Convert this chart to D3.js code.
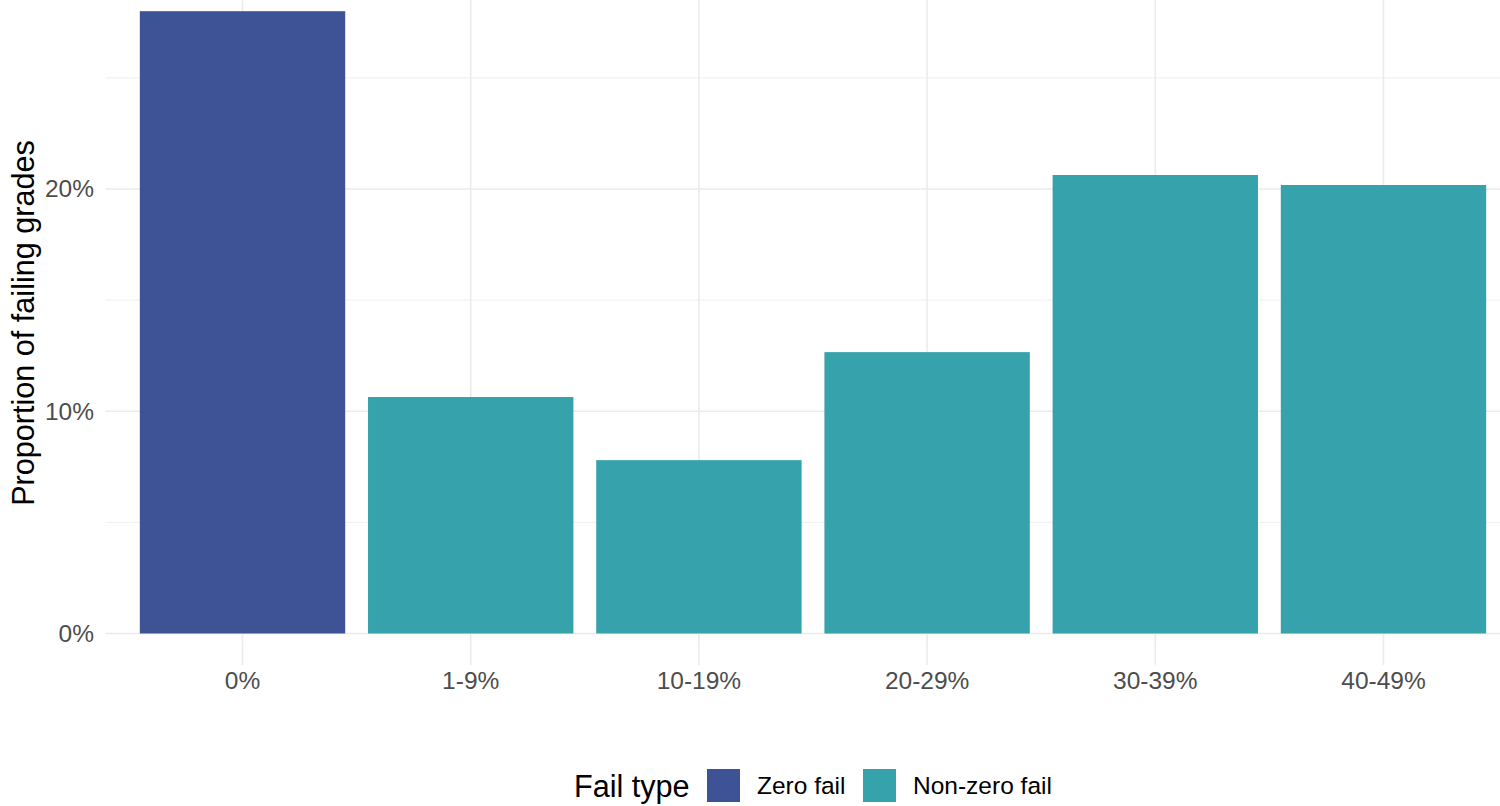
<!DOCTYPE html>
<html>
<head>
<meta charset="utf-8">
<script src="https://cdn.jsdelivr.net/npm/d3@7"></script>
<style>
  body { margin: 0; background: #fff; }
  text { font-family: "Liberation Sans", Arial, sans-serif; }
</style>
</head>
<body>
<svg id="chart" width="1500" height="806"></svg>
<script>
// data
let categories = ["0%", "1-9%", "10-19%", "20-29%", "30-39%", "40-49%"],
    proportions = [28.0, 10.64, 7.80, 12.66, 20.63, 20.18],
    fail_types = ["Zero fail", "Non-zero fail", "Non-zero fail", "Non-zero fail", "Non-zero fail", "Non-zero fail"],
    legend_labels = ["Zero fail", "Non-zero fail"],
    legend_colors = ["#3E5395", "#36A2AB"],
    major_ticks = [0, 10, 20],
    minor_ticks = [5, 15, 25];

let width = 1500,
    height = 806,
    panel = { left: 105.6, right: 1520.4, bottom: 665, top: -20 };

let svg = d3.select("#chart")

let x = d3.scaleBand()
  .domain(categories)
  .range([panel.left, panel.right])
  .paddingInner(0.1)
  .paddingOuter(0.15)

let y = d3.scaleLinear()
  .domain([0, 20])
  .range([633.5, 189])

let fill = d3.scaleOrdinal()
  .domain(legend_labels)
  .range(legend_colors)

// grid
let grid = svg.append("g")
grid.selectAll(".minor")
  .data(minor_ticks).enter()
  .append("line")
  .attr("x1", panel.left).attr("x2", width)
  .attr("y1", d => y(d)).attr("y2", d => y(d))
  .attr("stroke", "#EBEBEB").attr("stroke-width", 0.8)

grid.selectAll(".major")
  .data(major_ticks).enter()
  .append("line")
  .attr("x1", panel.left).attr("x2", width)
  .attr("y1", d => y(d)).attr("y2", d => y(d))
  .attr("stroke", "#EBEBEB").attr("stroke-width", 1.6)

grid.selectAll(".vert")
  .data(categories).enter()
  .append("line")
  .attr("x1", d => x(d) + x.bandwidth() / 2).attr("x2", d => x(d) + x.bandwidth() / 2)
  .attr("y1", 0).attr("y2", panel.bottom)
  .attr("stroke", "#EBEBEB").attr("stroke-width", 1.6)

// bars
svg.append("g")
  .selectAll("rect")
  .data(categories).enter()
  .append("rect")
  .attr("x", d => x(d))
  .attr("width", x.bandwidth())
  .attr("y", (d, i) => y(proportions[i]))
  .attr("height", (d, i) => y(0) - y(proportions[i]))
  .attr("fill", (d, i) => fill(fail_types[i]))

// y axis
let yAxis = svg.append("g")
  .attr("transform", "translate(94,0)")
  .call(d3.axisLeft(y).tickValues(major_ticks).tickSize(0).tickPadding(0).tickFormat(d => d + "%"))
yAxis.select(".domain").remove()
yAxis.selectAll("text")
  .attr("font-size", 24.5)
  .attr("fill", "#4D4D4D")
  .attr("font-family", "Liberation Sans, Arial, sans-serif")

// x axis
let xAxis = svg.append("g")
  .attr("transform", "translate(0,672)")
  .call(d3.axisBottom(x).tickSize(0).tickPadding(0))
xAxis.select(".domain").remove()
xAxis.selectAll("text")
  .attr("font-size", 24.5)
  .attr("fill", "#4D4D4D")
  .attr("font-family", "Liberation Sans, Arial, sans-serif")

// y title
svg.append("text")
  .attr("transform", "translate(34,323) rotate(-90)")
  .attr("text-anchor", "middle")
  .attr("font-size", 30.6)
  .attr("fill", "#000")
  .text("Proportion of failing grades")

// legend
let legend = svg.append("g")
legend.append("text")
  .attr("x", 574).attr("y", 797)
  .attr("font-size", 30.6)
  .text("Fail type")

let key_x = [707, 863]
legend.selectAll("rect")
  .data(legend_labels).enter()
  .append("rect")
  .attr("x", (d, i) => key_x[i]).attr("y", 769)
  .attr("width", 33).attr("height", 33)
  .attr("fill", d => fill(d))

legend.selectAll(".lbl")
  .data(legend_labels).enter()
  .append("text")
  .attr("x", (d, i) => key_x[i] + 50).attr("y", 794)
  .attr("font-size", 24.5)
  .text(d => d)
</script>
</body>
</html>
